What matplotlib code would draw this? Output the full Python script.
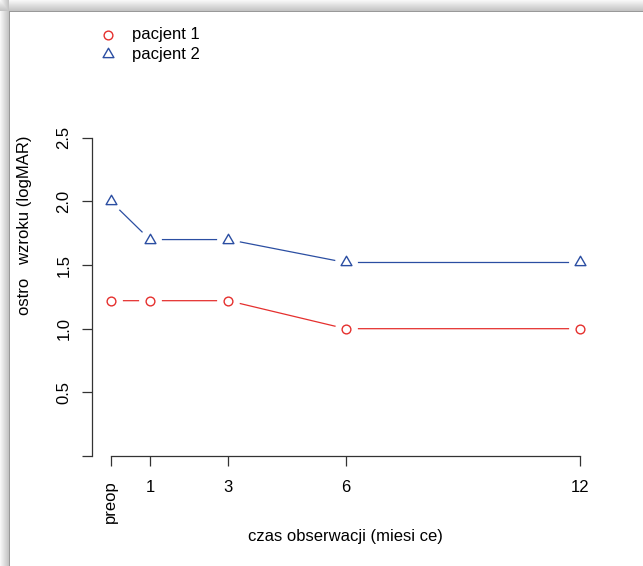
import numpy as np
import matplotlib
matplotlib.use("Agg")
import matplotlib.pyplot as plt
from matplotlib.lines import Line2D
from matplotlib.path import Path

# ---- data ----
months = [0, 1, 3, 6, 12]
tick_labels = ["preop", "1", "3", "6", "12"]
patient1 = [1.22, 1.22, 1.22, 1.0, 1.0]
patient2 = [2.0, 1.7, 1.7, 1.52, 1.52]
series_names = ["pacjent 1", "pacjent 2"]
y_ticks = [0.0, 0.5, 1.0, 1.5, 2.0, 2.5]
y_tick_labels = ["", "0.5", "1.0", "1.5", "2.0", "2.5"]
xlabel = "czas obserwacji (miesi ce)"
ylabel = "ostro   wzroku (logMAR)"

RED = "#E5302E"
BLUE = "#2B4EA2"
AXC = "#333333"

plt.rcParams["font.family"] = ["Liberation Sans", "DejaVu Sans"]
plt.rcParams["font.size"] = 12

W, H = 643, 566
fig = plt.figure(figsize=(W / 100, H / 100), dpi=100)
fig.patch.set_facecolor("white")

# page shadow background
xs = np.arange(W)[None, :].repeat(H, 0).astype(float)
ys = np.arange(H)[:, None].repeat(W, 1).astype(float)
left = 0.97 - (xs / 8.0) * 0.2
top = 0.97 - (ys / 10.0) * 0.2
img = np.ones((H, W))
img = np.where(xs < 9, np.minimum(img, left), img)
img = np.where(ys < 11, np.minimum(img, top), img)
img[(xs == 9) & (ys >= 11)] = 0.6
img[(ys == 11) & (xs >= 9)] = 0.6
img = np.clip(img, 0, 1)
rgb = np.dstack([img, img, img])
fig.figimage(rgb, xo=0, yo=0, origin="upper", zorder=-5)


def fx(px):
    return px / W


def fy(py):
    return 1 - py / H


ax = fig.add_axes([fx(92), fy(456), fx(599) - fx(92), fy(125) - fy(456)])
ax.set_facecolor("none")
ax.set_xlim(-0.48, 12.48)
ax.set_ylim(0, 2.6)

tri = Path([(-1, -0.577), (1, -0.577), (0, 1.155), (-1, -0.577)],
           [Path.MOVETO, Path.LINETO, Path.LINETO, Path.CLOSEPOLY])

styles = [(patient1, RED, "o", 6.3), (patient2, BLUE, tri, 9.0)]
for vals, col, mk, ms in styles:
    ax.plot(months, vals, color=col, lw=0.9, zorder=2, solid_capstyle="butt")
    ax.plot(months, vals, linestyle="none", marker="o", markersize=15.4,
            markerfacecolor="white", markeredgecolor="white", zorder=3)
    ax.plot(months, vals, linestyle="none", marker=mk, markersize=ms,
            markerfacecolor="none", markeredgecolor=col, markeredgewidth=1.0, zorder=4)

for s in ["top", "right"]:
    ax.spines[s].set_visible(False)
ax.spines["left"].set_bounds(0, 2.5)
ax.spines["bottom"].set_bounds(0, 12)
for s in ["left", "bottom"]:
    ax.spines[s].set_color(AXC)
    ax.spines[s].set_linewidth(0.9)

ax.set_xticks(months)
ax.set_xticklabels(tick_labels)
ax.set_yticks(y_ticks)
ax.set_yticklabels(y_tick_labels, rotation=90, va="center")
ax.tick_params(axis="both", direction="out", length=7.2, width=0.9, color=AXC,
               labelsize=12, labelcolor="black")
ax.tick_params(axis="x", pad=10)
ax.tick_params(axis="y", pad=7.5)
ax.get_xticklabels()[0].set_rotation(90)

fig.text(fx(345.5), fy(537), xlabel, ha="center", va="center", fontsize=12)
fig.text(fx(24), fy(225), ylabel, ha="center", va="center", rotation=90, fontsize=12)

# legend (outside plot, top-left)
for i, name in enumerate(series_names):
    _, col, mk, ms = styles[i]
    yy = fy(34.7 + i * 19.5)
    fig.add_artist(Line2D([fx(108)], [yy], transform=fig.transFigure, linestyle="none",
                          marker=mk, markersize=ms, markerfacecolor="none",
                          markeredgecolor=col, markeredgewidth=1.0))
    fig.text(fx(132), yy, name, ha="left", va="center", fontsize=12)

fig.savefig("out.png", dpi=100)
